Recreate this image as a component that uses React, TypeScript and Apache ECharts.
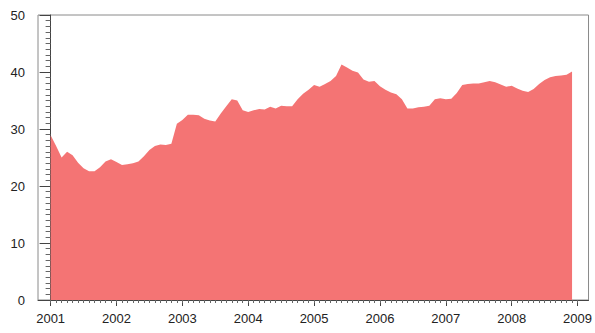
import React, { useEffect, useRef } from "react";
import * as echarts from "echarts";

const YEARS = [2001, 2002, 2003, 2004, 2005, 2006, 2007, 2008, 2009];
const Y_TICKS = [0, 10, 20, 30, 40, 50];
// Monthly values, Jan 2001 .. Dec 2008
const VALUES = [
  28.9, 27.0, 25.0, 26.0, 25.4, 24.1, 23.1, 22.6, 22.6, 23.3, 24.3, 24.7,
  24.2, 23.7, 23.8, 24.0, 24.3, 25.2, 26.3, 27.0, 27.3, 27.2, 27.4, 30.9,
  31.6, 32.5, 32.5, 32.4, 31.8, 31.5, 31.3, 32.7, 34.0, 35.2, 35.0, 33.3,
  33.0, 33.3, 33.5, 33.4, 33.9, 33.6, 34.1, 34.0, 34.0, 35.2, 36.2, 36.9,
  37.7, 37.4, 37.9, 38.4, 39.3, 41.3, 40.8, 40.2, 39.9, 38.7, 38.3, 38.4,
  37.5, 36.9, 36.4, 36.1, 35.2, 33.6, 33.6, 33.8, 33.9, 34.1, 35.2, 35.4,
  35.2, 35.3, 36.3, 37.7, 37.9, 38.0, 38.0, 38.2, 38.4, 38.2, 37.8, 37.4,
  37.6, 37.1, 36.7, 36.5, 37.0, 37.9, 38.6, 39.1, 39.3, 39.4, 39.5, 40.1,
];

const majorX = YEARS.map((_, i) => i * 12);
const minorX: number[] = [];
for (let m = 0; m <= (YEARS.length - 1) * 12; m++) minorX.push(m);

export default function App() {
  const ref = useRef<HTMLDivElement>(null);
  useEffect(() => {
    if (!ref.current) return;
    const chart = echarts.init(ref.current, null, { renderer: "svg" });
    const font = "Liberation Sans, Arial, Helvetica, sans-serif";
    chart.setOption({
      animation: false,
      backgroundColor: "#ffffff",
      grid: {
        left: 38,
        right: 4,
        top: 15,
        bottom: 33,
        show: true,
        borderColor: "#8a8a8a",
        borderWidth: 1,
        containLabel: false,
      },
      xAxis: [
        {
          type: "value",
          min: -2.3,
          max: 98,
          position: "bottom",
          axisLine: { show: true, onZero: false, lineStyle: { color: "#444", width: 1 } },
          axisTick: {
            show: true,
            inside: false,
            length: 6,
            customValues: majorX,
            lineStyle: { color: "#444" },
          },
          axisLabel: {
            show: true,
            customValues: majorX,
            formatter: (v: number) => String(YEARS[Math.round(v / 12)]),
            margin: 12,
            color: "#222",
            fontFamily: font,
            fontSize: 13,
          },
          splitLine: { show: false },
        },
        {
          type: "value",
          min: -2.3,
          max: 98,
          position: "bottom",
          axisLine: { show: false, onZero: false },
          axisTick: {
            show: true,
            inside: false,
            length: 3,
            customValues: minorX,
            lineStyle: { color: "#666" },
          },
          axisLabel: { show: false },
          splitLine: { show: false },
        },
      ],
      yAxis: {
        type: "value",
        min: Y_TICKS[0],
        max: Y_TICKS[Y_TICKS.length - 1],
        interval: 10,
        axisLine: { show: true, lineStyle: { color: "#444", width: 1 } },
        axisTick: { show: true, inside: false, length: 11, lineStyle: { color: "#444" } },
        minorTick: { show: true, splitNumber: 10, length: 5, lineStyle: { color: "#666" } },
        axisLabel: {
          margin: 13,
          color: "#222",
          fontFamily: font,
          fontSize: 13,
        },
        splitLine: { show: false },
      },
      series: [
        {
          type: "line",
          xAxisIndex: 0,
          data: VALUES.map((v, i) => [i, v]),
          symbol: "none",
          lineStyle: { width: 0, color: "#f47474" },
          itemStyle: { color: "#f47474" },
          areaStyle: { color: "#f47474", opacity: 1 },
          z: 1,
        },
      ],
    });
    return () => chart.dispose();
  }, []);
  return (
    <div
      ref={ref}
      style={{ position: "fixed", left: 0, top: 0, width: 595, height: 333 }}
    />
  );
}
